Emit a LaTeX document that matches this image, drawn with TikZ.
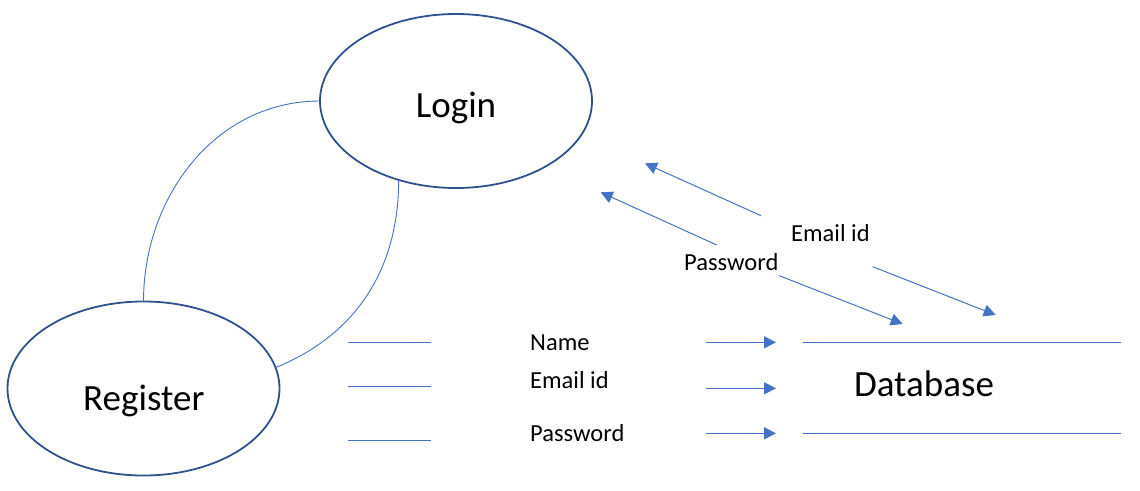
\documentclass[tikz,border=0pt]{standalone}
\usepackage{fontspec}
\setmainfont{Carlito}
\usetikzlibrary{shapes.geometric,arrows.meta}
\definecolor{ellblue}{HTML}{2F528F}
\definecolor{lineblue}{HTML}{4472C4}
\tikzset{
  procell/.style={ellipse, draw=ellblue, line width=1.8pt, minimum width=272pt, minimum height=174pt, inner sep=0pt, outer sep=0pt},
  bigtxt/.style={font=\fontsize{37}{40}\selectfont, inner sep=0pt, anchor=base},
  smalltxt/.style={font=\fontsize{24.5}{28}\selectfont, inner sep=0pt, anchor=base west},
  link/.style={draw=lineblue, line width=0.9pt},
  flow/.style={draw=lineblue, line width=1pt, -{Triangle[length=12pt,width=12pt]}},
  dbline/.style={draw=lineblue, line width=1pt}
}
\begin{document}
\begin{tikzpicture}[x=1pt,y=-1pt]
\useasboundingbox (0,0) rectangle (1140,490);
% processes
\node[procell] (login) at (456,101) {};
\node[procell] (register) at (143.5,388.5) {};
\node[bigtxt] (logintxt) at (456,117.3) {Login};
\node[bigtxt] (registertxt) at (143.8,410) {Register};
\node[bigtxt] (dbtxt) at (924,396) {Database};
% connectors between the ellipses
\draw[link] (login.west) to[out=180,in=90] (register.north);
\draw[link] (login.234) to[out=-90,in=22] (register.9);
% register data lines
\coordinate (l1a) at (348,342.3); \coordinate (l1b) at (431,342.3);
\coordinate (l2a) at (348,386.3); \coordinate (l2b) at (431,386.3);
\coordinate (l3a) at (348,440);   \coordinate (l3b) at (431,440);
\draw[link] (l1a) -- (l1b);
\draw[link] (l2a) -- (l2b);
\draw[link] (l3a) -- (l3b);
\node[smalltxt] (name) at (530,350.7) {Name};
\node[smalltxt] (email) at (530,388.3) {Email id};
\node[smalltxt] (pass) at (530,441) {Password};
% arrows into database
\coordinate (a1s) at (705.7,342.3); \coordinate (a1e) at (776,342.3);
\coordinate (a2s) at (705.7,388.3); \coordinate (a2e) at (776,388.3);
\coordinate (a3s) at (705.7,433.3); \coordinate (a3e) at (776,433.3);
\draw[flow] (a1s) -- (a1e);
\draw[flow] (a2s) -- (a2e);
\draw[flow] (a3s) -- (a3e);
% database store lines
\coordinate (d1a) at (803,342.3); \coordinate (d1b) at (1120.7,342.3);
\coordinate (d2a) at (803,433.3); \coordinate (d2b) at (1120.7,433.3);
\draw[dbline] (d1a) -- (d1b);
\draw[dbline] (d2a) -- (d2b);
% diagonal flows
\coordinate (e1s) at (761,215.7); \coordinate (e1e) at (645,163.3);
\coordinate (p1s) at (716.7,245); \coordinate (p1e) at (600.7,192.3);
\coordinate (p2s) at (779.3,275.7); \coordinate (p2e) at (902.7,324);
\coordinate (e2s) at (872.7,266.7); \coordinate (e2e) at (995.7,315);
\draw[flow] (e1s) -- (e1e);
\draw[flow] (p1s) -- (p1e);
\draw[flow] (p2s) -- (p2e);
\draw[flow] (e2s) -- (e2e);
\node[smalltxt] (emaildiag) at (791,241) {Email id};
\node[smalltxt] (passdiag) at (684,270.7) {Password};
\end{tikzpicture}
\end{document}
